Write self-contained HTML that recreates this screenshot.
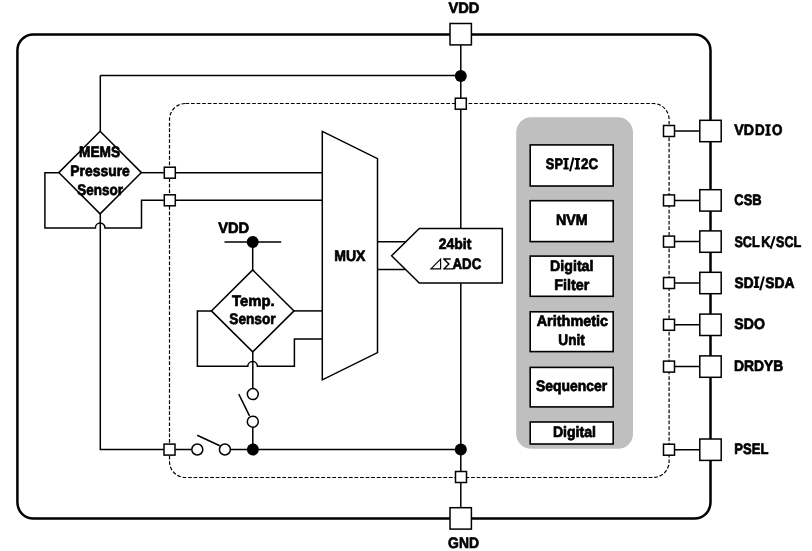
<!DOCTYPE html>
<html><head><meta charset="utf-8">
<style>
html,body{margin:0;padding:0;background:#fff;width:812px;height:551px;overflow:hidden}
svg{display:block;will-change:transform}
text{font-family:"Liberation Sans",sans-serif;font-weight:bold;fill:#000;stroke:#000;stroke-width:0.7px;text-rendering:geometricPrecision}
</style></head><body>
<svg width="812" height="551" viewBox="0 0 812 551">
<g fill="none" stroke="#000">
  <!-- outer box -->
  <rect x="17.4" y="34.4" width="693.1" height="484.1" rx="16" ry="16" stroke-width="2.5"/>
  <!-- dashed box -->
  <rect x="169.5" y="103.5" width="499.6" height="374.0" rx="16" ry="16" stroke-width="1.2" stroke-dasharray="3.7 1.85"/>
</g>
<!-- gray digital block -->
<rect x="516.2" y="117.3" width="116.8" height="331.5" rx="15" ry="15" fill="#bfbfbf"/>
<g fill="#fff" stroke="#000" stroke-width="1.6">
  <rect x="530.20" y="144.90" width="83.00" height="41.10"/>
  <rect x="530.20" y="200.70" width="83.00" height="40.90"/>
  <rect x="530.20" y="256.10" width="83.00" height="40.20"/>
  <rect x="530.20" y="311.80" width="83.00" height="39.80"/>
  <rect x="530.20" y="367.40" width="83.00" height="39.50"/>
  <rect x="530.20" y="422.00" width="83.00" height="22.00"/>
</g>
<g fill="none" stroke="#000" stroke-width="1.5">
  <!-- center vertical -->
  <path d="M460.8 45 V228.4 M460.8 283.2 V507"/>
  <!-- top horizontal + left vertical -->
  <path d="M100.3 75.4 H460.8 M100.3 75.4 V131.3 M100.3 213.9 V449.5 H163.8"/>
  <!-- MEMS loop -->
  <path d="M58.8 172.7 H44.9 V227.9 H95.4 A4.8 4.8 0 0 1 105.0 227.9 H141.5 V200.3 H163.8"/>
  <path d="M141.4 172.7 H163.8"/>
  <path d="M175.8 172.7 H322.3 M175.8 200.3 H322.3"/>
  <!-- bottom line with switch -->
  <path d="M175.4 449.5 H191.5"/>
  <path d="M230.7 449.5 H460.8"/>
  <path d="M197.2 435.3 L219.8 445.8"/>
  <!-- temp switch -->
  <path d="M252.8 449.5 V427.2"/>
  <path d="M238.8 394.2 L249.5 415.8"/>
  <path d="M252.8 388.6 V351.9"/>
  <!-- temp loop -->
  <path d="M211.4 310.9 H197.4 V366.3 H247.8 A4.8 4.8 0 0 1 257.4 366.3 H294.4 V339.0 H322.3"/>
  <path d="M294.0 310.9 H322.3"/>
  <!-- VDD temp -->
  <path d="M224.5 242.0 H281.2 M252.7 242.0 V269.9"/>
  <!-- MUX -->
  <path d="M322.3 131.4 L377.5 158.6 V352.6 L322.3 379.9 Z"/>
  <!-- ADC -->
  <path d="M419.3 228.4 H502.3 V283.1 H419.3 L391.6 255.8 Z"/>
  <path d="M377.5 241.8 H405.9 M377.5 269.5 H405.3"/>
  <!-- diamonds -->
  <path d="M100.1 131.3 L141.4 172.6 L100.1 213.9 L58.8 172.6 Z"/>
  <path d="M252.7 269.9 L294.0 310.9 L252.7 351.9 L211.4 310.9 Z"/>
  <!-- right connections -->
    <path d="M675 131 H699.5 M675 200.4 H699.5 M675 241.6 H699.5 M675 283 H699.5 M675 324.8 H699.5 M675 366.6 H699.5 M675 449.7 H699.5"/>
</g>
<!-- pads -->
<g fill="#fff" stroke="#000" stroke-width="1.5">
  <rect x="450" y="23.5" width="21.4" height="21.4"/>
  <rect x="450" y="507.7" width="21.4" height="21.4"/>
  <rect x="699.8" y="120.3" width="21.4" height="21.4"/>
  <rect x="699.8" y="189.7" width="21.4" height="21.4"/>
  <rect x="699.8" y="230.9" width="21.4" height="21.4"/>
  <rect x="699.8" y="272.3" width="21.4" height="21.4"/>
  <rect x="699.8" y="314.1" width="21.4" height="21.4"/>
  <rect x="699.8" y="355.9" width="21.4" height="21.4"/>
  <rect x="699.8" y="439" width="21.4" height="21.4"/>
  <!-- small squares -->
  <rect x="455.3" y="98.2" width="11" height="11"/>
  <rect x="455.5" y="471.5" width="11" height="11"/>
  <rect x="663.5" y="125.5" width="11" height="11"/>
  <rect x="663.5" y="194.9" width="11" height="11"/>
  <rect x="663.5" y="236.1" width="11" height="11"/>
  <rect x="663.5" y="277.5" width="11" height="11"/>
  <rect x="663.5" y="319.3" width="11" height="11"/>
  <rect x="663.5" y="361.1" width="11" height="11"/>
  <rect x="663.5" y="444.2" width="11" height="11"/>
  <rect x="164.3" y="167.2" width="11" height="11"/>
  <rect x="164.3" y="194.8" width="11" height="11"/>
  <rect x="164" y="444.1" width="11" height="11"/>
  <!-- circles -->
  <circle cx="197.3" cy="449.5" r="5.5"/>
  <circle cx="224.9" cy="449.5" r="5.5"/>
  <circle cx="252.8" cy="421.7" r="5.5"/>
  <circle cx="252.8" cy="394.1" r="5.5"/>
</g>
<g fill="#000">
  <circle cx="460.8" cy="75.9" r="6"/>
  <circle cx="460.8" cy="449.6" r="6"/>
  <circle cx="252.9" cy="449.5" r="6"/>
  <circle cx="252.7" cy="242.0" r="6"/>
</g>
<g font-size="15.2">
  <text x="448.48" y="13.00" textLength="30.97" lengthAdjust="spacingAndGlyphs">VDD</text>
  <text x="448.09" y="548.00" textLength="30.85" lengthAdjust="spacingAndGlyphs">GND</text>
  <text x="734.28" y="135.00" textLength="19.68" lengthAdjust="spacingAndGlyphs">VD</text>
  <text x="754.91" y="135.00" textLength="9.72" lengthAdjust="spacingAndGlyphs">D</text>
  <text x="771.90" y="135.00" textLength="10.47" lengthAdjust="spacingAndGlyphs">O</text>
  <text x="734.31" y="205.00" textLength="27.28" lengthAdjust="spacingAndGlyphs">CSB</text>
  <text x="734.46" y="247.00" textLength="25.22" lengthAdjust="spacingAndGlyphs">SCL</text>
  <text x="761.34" y="247.00" textLength="9.14" lengthAdjust="spacingAndGlyphs">K</text>
  <text x="776.06" y="247.00" textLength="25.22" lengthAdjust="spacingAndGlyphs">SCL</text>
  <text x="734.55" y="288.00" textLength="18.99" lengthAdjust="spacingAndGlyphs">SD</text>
  <text x="765.15" y="288.00" textLength="29.28" lengthAdjust="spacingAndGlyphs">SDA</text>
  <text x="734.34" y="329.00" textLength="30.53" lengthAdjust="spacingAndGlyphs">SDO</text>
  <text x="733.89" y="371.00" textLength="49.27" lengthAdjust="spacingAndGlyphs">DRDYB</text>
  <text x="734.33" y="454.00" textLength="34.01" lengthAdjust="spacingAndGlyphs">PSEL</text>
  <text x="79.00" y="157.00" textLength="41.02" lengthAdjust="spacingAndGlyphs">MEMS</text>
  <text x="70.29" y="176.00" textLength="59.55" lengthAdjust="spacingAndGlyphs">Pressure</text>
  <text x="77.25" y="195.00" textLength="45.75" lengthAdjust="spacingAndGlyphs">Sensor</text>
  <text x="218.18" y="233.00" textLength="30.97" lengthAdjust="spacingAndGlyphs">VDD</text>
  <text x="231.98" y="306.00" textLength="42.61" lengthAdjust="spacingAndGlyphs">Temp.</text>
  <text x="229.25" y="324.00" textLength="46.45" lengthAdjust="spacingAndGlyphs">Sensor</text>
  <text x="334.28" y="261.00" textLength="31.17" lengthAdjust="spacingAndGlyphs">MUX</text>
  <text x="438.86" y="249.00" textLength="32.53" lengthAdjust="spacingAndGlyphs">24bit</text>
  <text x="452.49" y="269.00" textLength="28.82" lengthAdjust="spacingAndGlyphs">ADC</text>
  <text x="545.86" y="169.00" textLength="17.06" lengthAdjust="spacingAndGlyphs">SP</text>
  <text x="581.06" y="169.00" textLength="17.11" lengthAdjust="spacingAndGlyphs">2C</text>
  <text x="556.08" y="225.00" textLength="31.62" lengthAdjust="spacingAndGlyphs">NVM</text>
  <text x="550.08" y="271.00" textLength="43.40" lengthAdjust="spacingAndGlyphs">Digital</text>
  <text x="554.37" y="290.00" textLength="35.00" lengthAdjust="spacingAndGlyphs">Filter</text>
  <text x="536.68" y="326.00" textLength="71.48" lengthAdjust="spacingAndGlyphs">Arithmetic</text>
  <text x="558.34" y="345.00" textLength="26.42" lengthAdjust="spacingAndGlyphs">Unit</text>
  <text x="535.95" y="391.00" textLength="71.22" lengthAdjust="spacingAndGlyphs">Sequencer</text>
  <text x="552.88" y="437.00" textLength="43.09" lengthAdjust="spacingAndGlyphs">Digital</text>
</g>
<path fill="#000" d="M563.30 158.00 H568.70 V160.00 H567.35 V167.50 H568.70 V169.50 H563.30 V167.50 H564.65 V160.00 H563.30 Z M574.70 158.00 H580.10 V160.00 H578.75 V167.50 H580.10 V169.50 H574.70 V167.50 H576.05 V160.00 H574.70 Z M765.30 124.20 H770.70 V126.20 H769.35 V133.80 H770.70 V135.80 H765.30 V133.80 H766.65 V126.20 H765.30 Z M753.80 276.40 H759.20 V278.40 H757.85 V285.90 H759.20 V287.90 H753.80 V285.90 H755.15 V278.40 H753.80 Z"/>
<path d="M570.0 171.3 L573.5 157.6 M760.1 290.2 L763.9 276.5 M770.6 248.8 L774.6 236.2" stroke="#000" stroke-width="2" fill="none"/>
<!-- small delta triangle -->
<path d="M430.9 268.8 L440.6 259.2 V268.8 Z" fill="none" stroke="#000" stroke-width="1.15" stroke-linejoin="miter"/><path d="M443.2 258.95 H450.8 M443.9 258.9 L448.9 263.9 L443.9 268.9 M443.2 268.85 H453" fill="none" stroke="#000" stroke-width="1.4"/>
</svg>
</body></html>
